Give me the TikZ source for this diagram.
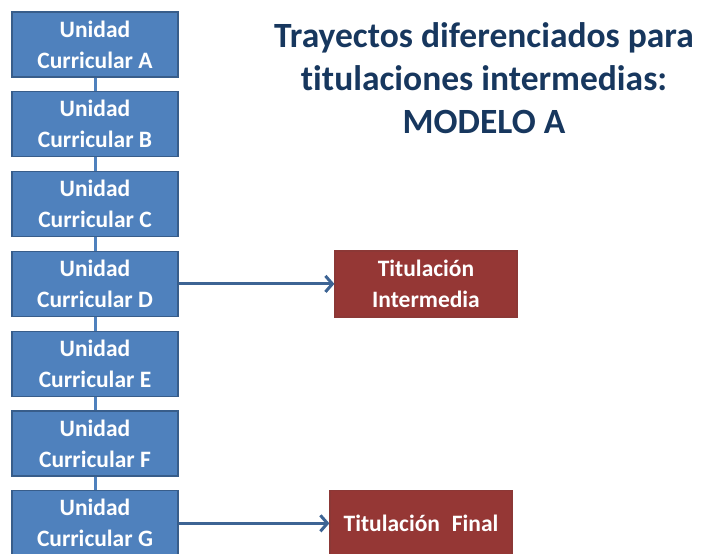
\documentclass[tikz,border=0pt]{standalone}
\usepackage{fontspec}
\setmainfont{Carlito}[Ligatures=NoCommon]
\usepackage{tikz}
\usetikzlibrary{positioning}
\usetikzlibrary{arrows.meta}

\definecolor{ucfill}{HTML}{4F81BD}
\definecolor{ucline}{HTML}{385D8A}
\definecolor{tifill}{HTML}{953735}
\definecolor{tiline}{HTML}{8C3836}
\definecolor{titcol}{HTML}{17375E}

\begin{document}
\begin{tikzpicture}[
  x=1pt, y=1pt,
  node distance=13.6pt and 0.5cm,
  unidad/.style={draw=ucline,fill=ucfill,line width=1.2pt,minimum width=166pt,minimum height=65pt,
    text=white,font=\bfseries\fontsize{23.5}{31}\selectfont,align=center,inner sep=0pt},
  titnode/.style={draw=tiline,fill=tifill,line width=1.2pt,minimum width=182pt,minimum height=66pt,
    text=white,font=\bfseries\fontsize{23.5}{31}\selectfont,align=center,inner sep=0pt},
  enlace/.style={draw=ucfill,line width=3pt},
  flecha/.style={draw=ucline!80!ucfill,line width=3pt,-{Straight Barb[length=7pt,width=16pt,line width=3pt]}}
]
  \useasboundingbox (0,0) rectangle (704,-554);
  \clip (0,0) rectangle (704,-554);

  \node[unidad] (ua) at (95,-44.5) {Unidad\\Curricular A};
  \node[unidad, below=of ua] (ub) {Unidad\\Curricular B};
  \node[unidad, below=of ub] (uc) {Unidad\\Curricular C};
  \node[unidad, below=of uc] (ud) {Unidad\\Curricular D};
  \node[unidad, below=of ud] (ue) {Unidad\\Curricular E};
  \node[unidad, below=of ue] (uf) {Unidad\\Curricular F};
  \node[unidad, below=of uf] (ug) {Unidad\\Curricular G};

  \node[titnode] (ti) at (ud -| 426,0) {Titulación\\Intermedia};
  \node[titnode] (tf) at (ug -| 421,0) {Titulación\enspace Final};

  \node[text=titcol,font=\bfseries\fontsize{35.5}{43}\selectfont,align=center] (titulo) at (484,-78)
    {Trayectos diferenciados para\\titulaciones intermedias:\\MODELO A};

  \path (ua) edge[enlace] (ub)
        (ub) edge[enlace] (uc)
        (uc) edge[enlace] (ud)
        (ud) edge[enlace] (ue)
        (ue) edge[enlace] (uf)
        (uf) edge[enlace] (ug)
        (ud) edge[flecha] (ti)
        (ug) edge[flecha] (tf)
  ;
\end{tikzpicture}
\end{document}
